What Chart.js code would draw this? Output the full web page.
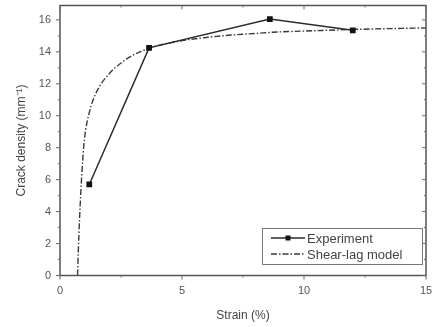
<!DOCTYPE html>
<html>
<head>
<meta charset="utf-8">
<script src="https://cdn.jsdelivr.net/npm/chart.js@4"></script>
<style>
  html, body { margin: 0; padding: 0; background: #fff; }
  #wrap { width: 433px; height: 327px; }
</style>
</head>
<body>
<div id="wrap"><canvas id="c" width="433" height="327"></canvas></div>
<script>
// experiment points
var expStrain = [1.2, 3.65, 8.6, 12.0];
var expDensity = [5.7, 14.25, 16.05, 15.35];

// shear-lag model curve
var modelStrain = [0.72, 0.75, 0.8, 0.9, 1.0, 1.2, 1.5, 2.0, 2.5, 3.0, 3.7, 5, 6, 7, 8, 9, 10, 12, 15];
var modelDensity = [0, 1.5, 3.5, 6.5, 8.5, 10.2, 11.5, 12.6, 13.3, 13.8, 14.25, 14.7, 14.9, 15.05, 15.15, 15.25, 15.3, 15.4, 15.5];

var xTicks = [0, 5, 10, 15];
var yTicks = [0, 2, 4, 6, 8, 10, 12, 14, 16];

var ink = "#2b2b2b";
var font = "Liberation Sans, Arial, sans-serif";

function pts(xs, ys) {
    return xs.map(function (x, i) { return { x: x, y: ys[i] }; });
}

// box, minor/major ticks and the legend box
var framePlugin = {
    id: "frame",
    afterDraw: function (chart) {
        var ctx = chart.ctx, a = chart.chartArea;
        var sx = chart.scales.x, sy = chart.scales.y;
        ctx.save();
        ctx.strokeStyle = "#555";
        ctx.lineWidth = 1.5;
        ctx.strokeRect(a.left, a.top, a.right - a.left, a.bottom - a.top);
        ctx.lineWidth = 1;
        ctx.strokeStyle = "#666";
        for (var v = 0; v <= 15; v += 2.5) {
            var px = sx.getPixelForValue(v);
            var len = (v % 5 === 0) ? 4 : 2;
            ctx.beginPath();
            ctx.moveTo(px, a.bottom); ctx.lineTo(px, a.bottom + len);
            ctx.moveTo(px, a.top); ctx.lineTo(px, a.top + len);
            ctx.stroke();
        }
        for (var w = 0; w <= 16; w += 1) {
            var py = sy.getPixelForValue(w);
            var l = (w % 2 === 0) ? 4 : 2;
            ctx.beginPath();
            ctx.moveTo(a.left, py); ctx.lineTo(a.left - l, py);
            ctx.moveTo(a.right, py); ctx.lineTo(a.right - l, py);
            ctx.stroke();
        }

        // legend
        var lx = 262, ly = 228, lw = 160, lh = 36;
        ctx.fillStyle = "#fff";
        ctx.fillRect(lx, ly, lw, lh);
        ctx.strokeStyle = "#777";
        ctx.lineWidth = 1;
        ctx.strokeRect(lx + 0.5, ly + 0.5, lw, lh);
        ctx.font = "13px " + font;
        ctx.textBaseline = "middle";
        chart.data.datasets.forEach(function (ds, i) {
            var yy = ly + 10 + i * 16;
            ctx.strokeStyle = ds.borderColor;
            ctx.lineWidth = ds.borderWidth;
            ctx.setLineDash(ds.borderDash || []);
            ctx.beginPath();
            ctx.moveTo(lx + 9, yy); ctx.lineTo(lx + 43, yy);
            ctx.stroke();
            ctx.setLineDash([]);
            if (ds.pointRadius > 0) {
                ctx.fillStyle = ds.pointBackgroundColor;
                ctx.fillRect(lx + 26 - 2.5, yy - 2.5, 5, 5);
            }
            ctx.fillStyle = "#444";
            ctx.fillText(ds.label, lx + 45, yy + 1);
        });
        ctx.restore();
    }
};

new Chart(document.getElementById("c"), {
    type: "scatter",
    data: {
        datasets: [{
            label: "Experiment",
            data: pts(expStrain, expDensity),
            showLine: true,
            borderColor: ink,
            borderWidth: 1.5,
            pointStyle: "rect",
            pointRadius: 3,
            pointBackgroundColor: "#111",
            pointBorderColor: "#111"
        }, {
            label: "Shear-lag model",
            data: pts(modelStrain, modelDensity),
            showLine: true,
            cubicInterpolationMode: "monotone",
            borderColor: "#3a3a3a",
            borderWidth: 1.4,
            borderDash: [6, 2, 1.5, 2],
            pointRadius: 0
        }]
    },
    options: {
        responsive: false,
        animation: false,
        layout: { padding: { top: 5, right: 7, left: 0, bottom: 0 } },
        plugins: {
            legend: { display: false },
            tooltip: { enabled: false }
        },
        scales: {
            x: {
                type: "linear",
                min: 0, max: 15,
                afterBuildTicks: function (s) { s.ticks = xTicks.map(function (v) { return { value: v }; }); },
                afterFit: function (s) { s.height = 51.5; s.paddingRight = 0; s.paddingLeft = 0; },
                grid: { display: false, drawTicks: false },
                border: { display: false },
                ticks: { color: "#555", font: { family: font, size: 11 }, padding: 9 },
                title: { display: true, text: "Strain (%)", color: "#444", font: { family: font, size: 12 }, padding: { top: 5 } }
            },
            y: {
                type: "linear",
                min: 0, max: 16.9,
                afterBuildTicks: function (s) { s.ticks = yTicks.map(function (v) { return { value: v }; }); },
                afterFit: function (s) { s.width = 60; s.paddingTop = 0; s.paddingBottom = 0; },
                grid: { display: false, drawTicks: false },
                border: { display: false },
                ticks: { color: "#555", font: { family: font, size: 11 }, padding: 9 },
                title: { display: true, text: "Crack density (mm\u207B\u00B9)", color: "#444", font: { family: font, size: 12 }, padding: { top: 14, bottom: 0 } }
            }
        }
    },
    plugins: [framePlugin]
});
</script>
</body>
</html>
